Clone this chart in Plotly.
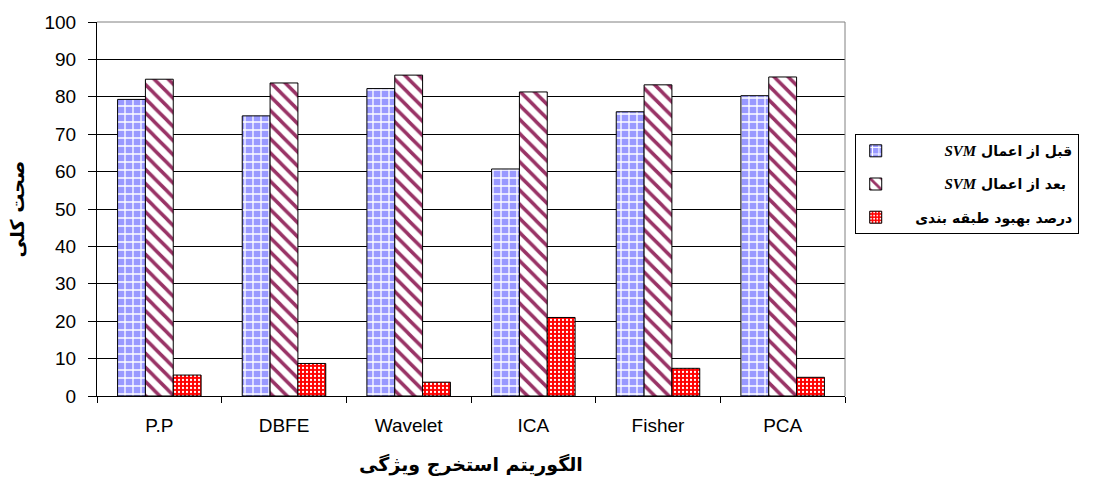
import plotly.graph_objects as go

# Feature-extraction algorithms on the x axis
categories = ["P.P", "DBFE", "Wavelet", "ICA", "Fisher", "PCA"]

# Overall accuracy before / after applying SVM, and the classification improvement
before_svm = [79.3, 74.9, 82.2, 60.7, 76.0, 80.3]
after_svm = [84.7, 83.7, 85.8, 81.3, 83.2, 85.3]
improvement = [5.6, 8.7, 3.7, 21.0, 7.4, 5.0]

y_ticks = list(range(0, 101, 10))

NB = "\u00a0"
SVM = ("<i><span style='font-family:Liberation Serif, Times New Roman, serif;"
       "font-size:15px'>SVM</span></i>")
name_before = "<b>" + NB * 10 + SVM + " قبل از اعمال</b>"
name_after = "<b>" + NB * 10 + SVM + " بعد از اعمال</b>"
name_improve = "<b>" + NB * 4 + "درصد بهبود طبقه بندی</b>"

fig = go.Figure()

fig.add_trace(go.Bar(
    x=categories, y=before_svm, name=name_before, legendgroup="a",
    marker=dict(
        color="#9999ff",
        line=dict(color="#000000", width=1),
        pattern=dict(shape="+", fgcolor="#ffffff", bgcolor="#9999ff",
                     size=8, solidity=0.3, fillmode="replace"),
    ),
))
fig.add_trace(go.Bar(
    x=categories, y=after_svm, name=name_after, legendgroup="b",
    marker=dict(
        color="#ffffff",
        line=dict(color="#000000", width=1),
        pattern=dict(shape="\\", fgcolor="#993366", bgcolor="#ffffff",
                     size=10, solidity=0.35, fillmode="replace"),
    ),
))
fig.add_trace(go.Bar(
    x=categories, y=improvement, name=name_improve, legendgroup="c",
    marker=dict(
        color="#ff0000",
        line=dict(color="#000000", width=1),
        pattern=dict(shape=".", fgcolor="#ffffff", bgcolor="#ff0000",
                     size=4, solidity=0.25, fillmode="replace"),
    ),
))

fig.update_layout(
    width=1095, height=483,
    margin=dict(l=97, r=250, t=19, b=87),
    paper_bgcolor="#ffffff", plot_bgcolor="#ffffff",
    barmode="group", bargap=0.33, bargroupgap=0,
    font=dict(family="Arial, Liberation Sans, sans-serif", color="#000000", size=19),
    showlegend=True,
    legend=dict(
        x=1.013, xanchor="left", y=0.70, yanchor="top",
        bgcolor="#ffffff", bordercolor="#000000", borderwidth=1,
        font=dict(family="DejaVu Sans, sans-serif", size=14, color="#000000"),
        tracegroupgap=12, traceorder="grouped",
    ),
    xaxis=dict(
        title=dict(text="<b>الگوریتم استخرج ویژگی</b>",
                   font=dict(family="DejaVu Sans, sans-serif", size=19), standoff=22),
        showline=True, linecolor="#000000", linewidth=1,
        ticks="outside", tickson="boundaries", ticklen=6, tickcolor="#000000",
        showgrid=False, mirror=False, ticklabelstandoff=12,
    ),
    yaxis=dict(
        title=dict(text="<b>صحت کلی</b>",
                   font=dict(family="DejaVu Sans, sans-serif", size=19), standoff=14),
        range=[0, 100], tickvals=y_ticks,
        showline=True, linecolor="#000000", linewidth=1,
        ticks="outside", ticklen=8, tickcolor="#000000",
        showgrid=True, gridcolor="#000000", gridwidth=1,
        zeroline=False, ticklabelstandoff=8,
    ),
)

# grey frame on the top and right of the plotting area
fig.add_shape(type="line", xref="paper", yref="paper", x0=0, x1=1, y0=1, y1=1,
              line=dict(color="#808080", width=1))
fig.add_shape(type="line", xref="paper", yref="paper", x0=1, x1=1, y0=0, y1=1,
              line=dict(color="#808080", width=1))

fig.write_html("out.html")
